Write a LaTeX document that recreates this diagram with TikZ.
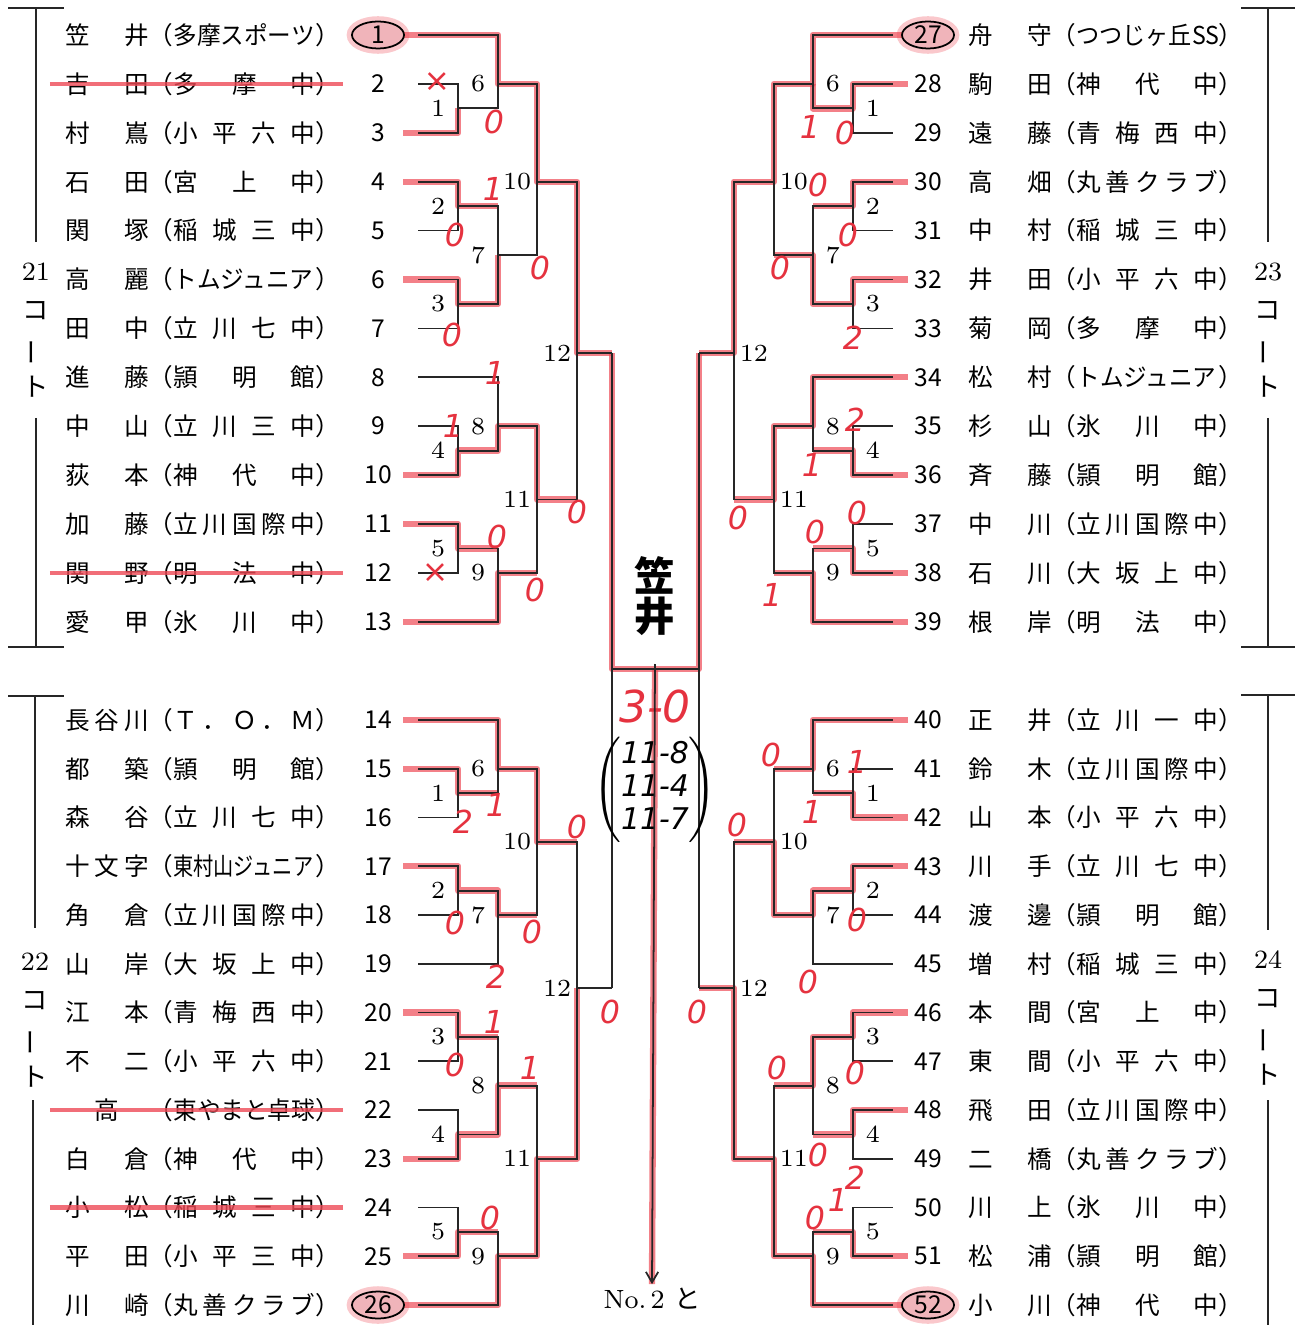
\documentclass[tikz,border=0pt]{standalone}
\usepackage{fontspec}
\usepackage{graphicx}
\usetikzlibrary{arrows.meta,shapes.geometric}
\newfontfamily\jp{Noto Sans CJK JP}
\newfontfamily\hand{DejaVu Sans}
\definecolor{HandRed}{HTML}{E5323F}
\definecolor{Marker}{HTML}{EE4A56}
\definecolor{SeedPink}{HTML}{F0B4BA}
\pgfdeclarelayer{marker}
\pgfsetlayers{marker,main}

\newcommand\nam[1]{\makebox[0.83cm][s]{#1}}
\newcommand\fld[1]{\makebox[1.42cm][s]{#1}}

% match number / x of its vertical / row of its output
\def\matchA{1/458/2.5,2/458/4.5,3/458/6.5,4/458/9.5,5/458/11.5,6/498/2,7/498/5.5,8/498/9,9/498/12,10/537/4,11/537/10.5,12/577/7.5}
\def\matchB{1/458/2.5,2/458/4.5,3/458/7.5,4/458/9.5,5/458/11.5,6/498/2,7/498/5,8/498/8.5,9/498/12,10/537/3.5,11/537/10,12/577/6.5}
% the two lines each match joins
\def\pairA{s2/s3/o1,s4/s5/o2,s6/s7/o3,s9/s10/o4,s11/s12/o5,s1/o1/o6,o2/o3/o7,s8/o4/o8,o5/s13/o9,o6/o7/o10,o8/o9/o11,o10/o11/o12}
\def\pairB{s2/s3/o1,s4/s5/o2,s7/s8/o3,s9/s10/o4,s11/s12/o5,s1/o1/o6,o2/s6/o7,o3/o4/o8,o5/s13/o9,o6/o7/o10,o8/o9/o11,o10/o11/o12}

\newcommand\bracket[3]{%
  \foreach \i in {1,...,13}{%
    \coordinate (#1s\i) at (418,{Y(\i)});
    \coordinate (#1r\i) at (403,{Y(\i)});
  }
  \foreach \j/\x/\y in #2{%
    \coordinate (#1o\j) at (\x,{Y(\y)});
    \node[mlab] (#1l\j) at ({\x-20},{Y(\y)}) {\j};
  }
  \coordinate (#1fx) at (612,0);
  \coordinate (#1f) at (#1o12 -| #1fx);
  \foreach \ua/\ub/\um in #3{%
    \draw[bk] (#1\ua) -| (#1\ub -| #1\um) -- (#1\ub);
  }
  \draw[bk] (#1o12) -- (#1f);
}

\newcommand\rows[3]{%
  \foreach \n/\nm/\sch [count=\i] in #3{%
    \node[num] (k\n) at (#1,{Y(\i)}) {\n};
    \node[entry] (n\n) at (#2,{Y(\i)}) {\nam{\nm}（\fld{\sch}）};
  }}

\def\rowsTL{1/{笠\hfill 井}/{\scalebox{0.96}[1]{多摩スポーツ}},
  2/{吉\hfill 田}/{多\hfill 摩\hfill 中},
  3/{村\hfill 嶌}/{小\hfill 平\hfill 六\hfill 中},
  4/{石\hfill 田}/{宮\hfill 上\hfill 中},
  5/{関\hfill 塚}/{稲\hfill 城\hfill 三\hfill 中},
  6/{高\hfill 麗}/{\scalebox{0.96}[1]{トムジュニア}},
  7/{田\hfill 中}/{立\hfill 川\hfill 七\hfill 中},
  8/{進\hfill 藤}/{頴\hfill 明\hfill 館},
  9/{中\hfill 山}/{立\hfill 川\hfill 三\hfill 中},
  10/{荻\hfill 本}/{神\hfill 代\hfill 中},
  11/{加\hfill 藤}/{立\hfill 川\hfill 国\hfill 際\hfill 中},
  12/{関\hfill 野}/{明\hfill 法\hfill 中},
  13/{愛\hfill 甲}/{氷\hfill 川\hfill 中}}
\def\rowsBL{14/{長\hfill 谷\hfill 川}/{Ｔ\hfill ．\hfill Ｏ\hfill ．\hfill Ｍ},
  15/{都\hfill 築}/{頴\hfill 明\hfill 館},
  16/{森\hfill 谷}/{立\hfill 川\hfill 七\hfill 中},
  17/{十\hfill 文\hfill 字}/{\scalebox{0.82}[1]{東村山ジュニア}},
  18/{角\hfill 倉}/{立\hfill 川\hfill 国\hfill 際\hfill 中},
  19/{山\hfill 岸}/{大\hfill 坂\hfill 上\hfill 中},
  20/{江\hfill 本}/{青\hfill 梅\hfill 西\hfill 中},
  21/{不\hfill 二}/{小\hfill 平\hfill 六\hfill 中},
  22/{\hfill 高\hfill}/{\scalebox{0.96}[1]{東やまと卓球}},
  23/{白\hfill 倉}/{神\hfill 代\hfill 中},
  24/{小\hfill 松}/{稲\hfill 城\hfill 三\hfill 中},
  25/{平\hfill 田}/{小\hfill 平\hfill 三\hfill 中},
  26/{川\hfill 崎}/{丸\hfill 善\hfill ク\hfill ラ\hfill ブ}}
\def\rowsTR{27/{舟\hfill 守}/{\scalebox{0.94}[1]{つつじヶ丘SS}},
  28/{駒\hfill 田}/{神\hfill 代\hfill 中},
  29/{遠\hfill 藤}/{青\hfill 梅\hfill 西\hfill 中},
  30/{高\hfill 畑}/{丸\hfill 善\hfill ク\hfill ラ\hfill ブ},
  31/{中\hfill 村}/{稲\hfill 城\hfill 三\hfill 中},
  32/{井\hfill 田}/{小\hfill 平\hfill 六\hfill 中},
  33/{菊\hfill 岡}/{多\hfill 摩\hfill 中},
  34/{松\hfill 村}/{\scalebox{0.96}[1]{トムジュニア}},
  35/{杉\hfill 山}/{氷\hfill 川\hfill 中},
  36/{斉\hfill 藤}/{頴\hfill 明\hfill 館},
  37/{中\hfill 川}/{立\hfill 川\hfill 国\hfill 際\hfill 中},
  38/{石\hfill 川}/{大\hfill 坂\hfill 上\hfill 中},
  39/{根\hfill 岸}/{明\hfill 法\hfill 中}}
\def\rowsBR{40/{正\hfill 井}/{立\hfill 川\hfill 一\hfill 中},
  41/{鈴\hfill 木}/{立\hfill 川\hfill 国\hfill 際\hfill 中},
  42/{山\hfill 本}/{小\hfill 平\hfill 六\hfill 中},
  43/{川\hfill 手}/{立\hfill 川\hfill 七\hfill 中},
  44/{渡\hfill 邊}/{頴\hfill 明\hfill 館},
  45/{増\hfill 村}/{稲\hfill 城\hfill 三\hfill 中},
  46/{本\hfill 間}/{宮\hfill 上\hfill 中},
  47/{東\hfill 間}/{小\hfill 平\hfill 六\hfill 中},
  48/{飛\hfill 田}/{立\hfill 川\hfill 国\hfill 際\hfill 中},
  49/{二\hfill 橋}/{丸\hfill 善\hfill ク\hfill ラ\hfill ブ},
  50/{川\hfill 上}/{氷\hfill 川\hfill 中},
  51/{松\hfill 浦}/{頴\hfill 明\hfill 館},
  52/{小\hfill 川}/{神\hfill 代\hfill 中}}

\begin{document}
\begin{tikzpicture}[x=0.01cm,y=-0.01cm,
  declare function={Y(\q)=\yb+(\q-1)*\ys;},
  bk/.style={line width=0.5pt,black!85},
  mk/.style={draw=Marker,line width=1.8pt,opacity=0.7,line join=round},
  strike/.style={draw=Marker,line width=1.2pt,opacity=0.8},
  entry/.style={anchor=west,inner sep=0pt,font=\jp\fontsize{7}{8}\selectfont},
  num/.style={inner sep=0pt,font=\jp\fontsize{7}{8}\selectfont},
  mlab/.style={inner sep=0pt,font=\rmfamily\fontsize{7}{7}\selectfont},
  seed/.style={ellipse,draw=black,line width=0.5pt,fill=SeedPink,minimum width=0.52cm,
    minimum height=0.27cm,inner sep=0pt,preaction={draw=Marker,line width=3pt,opacity=0.3}},
  hand/.style={inner sep=0pt,text=HandRed,font=\hand\itshape\fontsize{9}{9}\selectfont},
  court/.style={align=center,inner sep=0pt,font=\jp\fontsize{7.5}{11}\selectfont}
]
\useasboundingbox (0,0) rectangle (1301,1325);

% courts
\node[court] (c21) at (36,330) {{\rmfamily 21}\\コ\\\rotatebox[origin=c]{90}{ー}\\ト};
\node[court] (c22) at (35,1020) {{\rmfamily 22}\\コ\\\rotatebox[origin=c]{90}{ー}\\ト};
\node[court] (c23) at (1268,330) {{\rmfamily 23}\\コ\\\rotatebox[origin=c]{90}{ー}\\ト};
\node[court] (c24) at (1268,1018) {{\rmfamily 24}\\コ\\\rotatebox[origin=c]{90}{ー}\\ト};
\draw[bk] (8,8) -- (64,8) (36,8) -- (36,242) (36,418) -- (36,647) (8,647) -- (64,647);
\draw[bk] (8,696) -- (64,696) (35,696) -- (35,928) (33,1100) -- (33,1325);
\draw[bk] (1241,8) -- (1295,8) (1268,8) -- (1268,242) (1268,418) -- (1268,647) (1241,647) -- (1295,647);
\draw[bk] (1241,695) -- (1295,695) (1268,695) -- (1268,930) (1268,1100) -- (1268,1325);

% top left
\def\yb{35}\def\ys{48.9}
\bracket{TL}{\matchA}{\pairA}
\rows{378}{65}{\rowsTL}
\begin{pgfonlayer}{marker}
  \draw[mk] (TLr1) -| (TLo6) -| (TLo10) -| (TLo12) -- (TLf);
  \draw[mk] (TLr3) -| (TLo1);
  \draw[mk] (TLr4) -| (TLo2) -- (TLo2 -| TLo7);
  \draw[mk] (TLr6) -| (TLo3) -| (TLo7);
  \draw[mk] (TLr10) -| (TLo4) -| (TLo8) -| (TLo11) -- (TLo11 -| TLo12);
  \draw[mk] (TLr11) -| (TLo5) -- (TLo5 -| TLo9);
  \draw[mk] (TLr13) -| (TLo9) -- (TLo9 -| TLo11);
\end{pgfonlayer}

% top right
\begin{scope}[xshift=13.1cm,xscale=-1]
  \bracket{TR}{\matchA}{\pairA}
  \begin{pgfonlayer}{marker}
    \draw[mk] (TRr1) -| (TRo6) -| (TRo10) -| (TRo12) -- (TRf);
    \draw[mk] (TRr2) -| (TRo1) -| (TRo6);
    \draw[mk] (TRr4) -| (TRo2) -- (TRo2 -| TRo7);
    \draw[mk] (TRr6) -| (TRo3) -| (TRo7) -- (TRo7 -| TRo10);
    \draw[mk] (TRr8) -| (TRo8) -| (TRo11) -- (TRo11 -| TRo12);
    \draw[mk] (TRr10) -| (TRo4) -- (TRo4 -| TRo8);
    \draw[mk] (TRr12) -| (TRo5) -- (TRo5 -| TRo9);
    \draw[mk] (TRr13) -| (TRo9) -- (TRo9 -| TRo11);
  \end{pgfonlayer}
\end{scope}
\rows{928}{968}{\rowsTR}

% bottom left
\def\yb{720}\def\ys{48.75}
\bracket{BL}{\matchB}{\pairB}
\rows{378}{65}{\rowsBL}
\begin{pgfonlayer}{marker}
  \draw[mk] (BLr1) -| (BLo6) -| (BLo10) -- (BLo10 -| BLo12);
  \draw[mk] (BLr2) -| (BLo1) -- (BLo1 -| BLo6);
  \draw[mk] (BLr4) -| (BLo2) -| (BLo7) -- (BLo7 -| BLo10);
  \draw[mk] (BLr7) -| (BLo3) -- (BLo3 -| BLo8);
  \draw[mk] (BLr10) -| (BLo4) -| (BLo8) -- (BLo8 -| BLo11);
  \draw[mk] (BLr12) -| (BLo5) -- (BLo5 -| BLo9);
  \draw[mk] (BLr13) -| (BLo9) -| (BLo11) -| (BLo12);
\end{pgfonlayer}

% bottom right
\begin{scope}[xshift=13.1cm,xscale=-1]
  \bracket{BR}{\matchB}{\pairB}
  \begin{pgfonlayer}{marker}
    \draw[mk] (BRr1) -| (BRo6) -- (BRo6 -| BRo10);
    \draw[mk] (BRr3) -| (BRo1) -- (BRo1 -| BRo6);
    \draw[mk] (BRr4) -| (BRo2) -| (BRo7) -| (BRo10) -- (BRo10 -| BRo12);
    \draw[mk] (BRr7) -| (BRo3) -| (BRo8) -- (BRo8 -| BRo11);
    \draw[mk] (BRr9) -| (BRo4) -- (BRo4 -| BRo8);
    \draw[mk] (BRr12) -| (BRo5) -- (BRo5 -| BRo9);
    \draw[mk] (BRr13) -| (BRo9) -| (BRo11) -| (BRo12) -- (BRf);
  \end{pgfonlayer}
\end{scope}
\rows{928}{968}{\rowsBR}

% seeds and withdrawn players
\begin{pgfonlayer}{marker}
  \foreach \s in {1,26,27,52} \node[seed] (ov\s) at (k\s) {};
\end{pgfonlayer}
\foreach \n in {2,12,22,24}
  \draw[strike] ([xshift=-0.15cm]n\n.west) -- ([xshift=0.02cm]n\n.east);

% final
\coordinate (fin) at (655,669);
\coordinate (ftop) at (655,664);
\draw[bk] (TLf) -- (BLf);
\draw[bk] (TRf) -- (BRf);
\draw[bk] (TLf |- fin) -- (TRf |- fin);
\node[inner sep=0pt,font=\jp\bfseries\fontsize{11.5}{11.5}\selectfont,align=center] (champ) at (655,596) {笠\\井};
\node[hand,font=\hand\itshape\fontsize{12.5}{12.5}\selectfont] (fscore) at (655,706) {3-0};
\node[inner sep=0pt,font=\hand\itshape\fontsize{8.5}{9.3}\selectfont] (games) at (655,790)
  {$\left(\begin{tabular}{@{}c@{}}11-8\\11-4\\11-7\end{tabular}\right)$};
\node[inner sep=1pt,font=\fontsize{7.5}{8}\selectfont] (next) at (652,1299) {No.\,2 {\jp と}};
\draw[bk,-{Straight Barb[length=3pt,width=3.5pt]}] (ftop) -- (next.north);
\begin{pgfonlayer}{marker}
  \draw[mk] (TLf) -- (TLf |- fin) -- (TRf |- fin) -- (TRf);
  \draw[mk] (fin) -- (next.north);
\end{pgfonlayer}

% handwritten scores
\foreach \x/\y/\sv [count=\c] in {494/122/0,493/189/1,455/235/0,540/268/0,452/335/0,495/373/1,
    453/426/1,577/512/0,497/537/0,535/590/0,
    810/127/1,845/133/0,818/185/0,848/235/0,780/268/0,853/338/2,855/420/2,812/465/1,
    738/518/0,857/513/0,815/532/0,772/595/1,
    463/822/2,496/805/1,577/827/0,455/923/0,532/932/0,496/977/2,610/1012/0,494/1022/1,
    455/1065/0,530/1068/1,490/1218/0,
    771/755/0,857/762/1,812/812/1,737/825/0,857/920/0,808/982/0,697/1012/0,777/1068/0,
    855/1073/0,818/1155/0,855/1178/2,815/1218/0,838/1200/1}
  \node[hand] (pt\c) at (\x,\y) {\sv};
\node[hand] (wo1) at (437,82) {×};
\node[hand] (wo2) at (435,573) {×};
\end{tikzpicture}
\end{document}
